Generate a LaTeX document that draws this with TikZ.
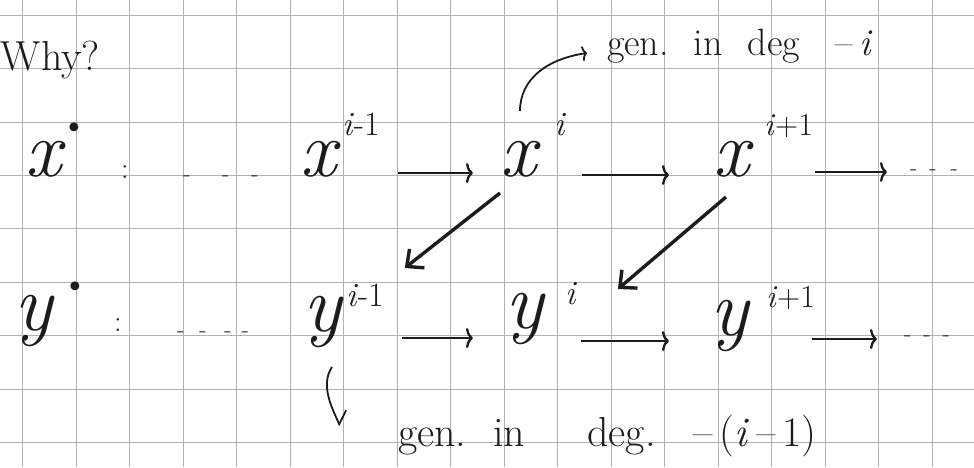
\documentclass[tikz,border=0pt]{standalone}
\usepackage{fontspec}
\newfontfamily\dv{DejaVu Sans}
\usetikzlibrary{arrows.meta,calc}
\definecolor{ink}{HTML}{1C1C1C}
\newcommand\Lf{\fontsize{80}{80}\selectfont\itshape}
\newcommand\Sf{\fontsize{34}{34}\selectfont}
\newcommand\Pf{\fontsize{32}{32}\selectfont}
\newcommand\Df{\fontsize{30}{30}\selectfont}
\newcommand\Mf{\fontsize{24}{24}\selectfont}
\begin{document}
\begin{tikzpicture}[x=1pt,y=-1pt,
  lab/.style={anchor=base west, inner sep=0pt, outer sep=0pt, text=ink},
  harr/.style={draw=ink, line width=2.3pt, -{Computer Modern Rightarrow[length=7pt, width=20pt]}},
  darr/.style={draw=ink, line width=3.4pt, -{Straight Barb[length=13pt,width=24pt]}},
  carr/.style={draw=ink, line width=1.8pt, -{Computer Modern Rightarrow[length=5pt, width=15pt]}},
  hookarr/.style={draw=ink, line width=1.8pt, -{Straight Barb[left,length=10pt,width=24pt]}},
  gridln/.style={draw=gray!60, line width=0.6pt}]
\useasboundingbox (0,0) rectangle (974,467);
\clip (0,0) rectangle (974,467);
\fill[white] (0,0) rectangle (974,467);
\foreach \i in {0,...,17} \draw[gridln] ({22.7+53.5*\i},0) -- ({22.7+53.5*\i},467);
\foreach \j in {0,...,8} \draw[gridln] (0,{15+53.4*\j}) -- (974,{15+53.4*\j});

% title
\node[lab] (why) at (1,70) {\fontsize{42}{42}\selectfont Why?};

% x row
\node[lab] (xdot) at (25,176) {{\Lf x}\kern4pt\raisebox{38pt}{\Df\dv •}};
\node[lab] (xcolon) at (121,178) {\Df:};
\node[lab] (xdots) at (183,181) {\Mf -\hspace{32pt}-\hspace{22pt}-};
\node[lab] (xim1) at (300,176) {{\Lf x}\kern6pt\raisebox{41pt}{\Sf\textit{i}-1}};
\node[lab] (xi) at (500,176) {{\Lf x}\kern18pt\raisebox{41pt}{\Sf\textit{i}}};
\node[lab] (xip1) at (713,176) {{\Lf x}\kern15pt\raisebox{41pt}{\Pf\textit{i}+1}};
\node[lab] (xend) at (910,175) {\Mf -\hspace{12pt}-\hspace{14pt}-};

% y row
\node[lab] (ydot) at (14,330) {{\Lf y}\kern14pt\raisebox{33pt}{\Df\dv •}};
\node[lab] (ycolon) at (114,331) {\Df:};
\node[lab] (ydots) at (177,337) {\Mf -\hspace{15pt}-\hspace{18pt}-\hspace{10pt}-};
\node[lab] (yim1) at (303,331) {{\Lf y}\kern5pt\raisebox{25pt}{\Sf\textit{i}-1}};
\node[lab] (yi) at (505,328) {{\Lf y}\kern22pt\raisebox{24pt}{\Sf\textit{i}}};
\node[lab] (yip1) at (710,335) {{\Lf y}\kern18pt\raisebox{28pt}{\Pf\textit{i}+1}};
\node[lab] (yend) at (904,341) {\Mf -\hspace{12pt}-\hspace{12pt}-};

% labels
\node[lab] (lab1) at (607,55) {\fontsize{38}{38}\selectfont gen.\hspace{25pt}in\hspace{25pt}deg\hspace{36pt}–\,\textit{i}};
\node[lab] (lab2) at (398,446) {\fontsize{42}{42}\selectfont gen.\hspace{27pt}in\hspace{62pt}deg.\hspace{38pt}–\,(\textit{i}\,–\,1)};

% horizontal arrows, x row
\draw[harr] ($(xim1.base east)+(18,-3)$) -- ($(xi.base west)+(-27,-3)$);
\draw[harr] ($(xi.base east)+(16,-1)$) -- ($(xip1.base west)+(-44,-1)$);
\draw[harr] ($(xip1.base east)+(2,-4)$) -- ($(xend.base west)+(-23,-3)$);

% horizontal arrows, y row
\draw[harr] ($(yim1.base east)+(18,7)$) -- ($(yi.base west)+(-32,10)$);
\draw[harr] ($(yi.base east)+(4,13)$) -- ($(yip1.base west)+(-41,6)$);
\draw[harr] ($(yip1.base east)+(-3,4)$) -- ($(yend.base west)+(-27,-2)$);

% diagonal arrows
\draw[darr] ($(xi.base west)+(0,17)$) -- ($(yim1.base east)+(21,-63)$);
\draw[darr] ($(xip1.base west)+(13,21)$) -- ($(yi.base east)+(41,-39)$);

% annotation arrows
\draw[carr] ($(xi.base west)+(20,-65)$) .. controls +(0,-32) and +(-40,6) .. ($(lab1.base west)+(-20,-2)$);
\draw[hookarr] ($(yim1.base west)+(29,36)$) .. controls +(-12,18) and +(-8,-18) .. ($(lab2.base west)+(-58,-20)$);
\end{tikzpicture}
\end{document}
